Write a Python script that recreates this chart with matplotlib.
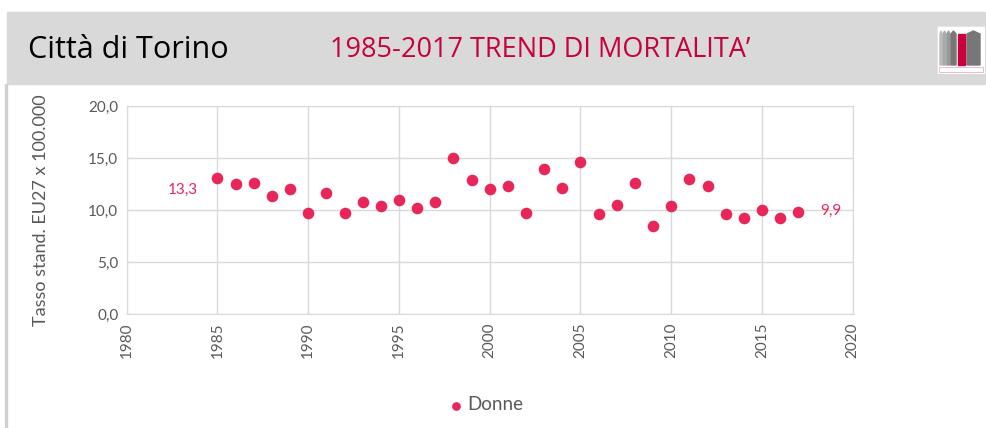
import matplotlib.pyplot as plt
from matplotlib.patches import Rectangle, Polygon

# data
anni = list(range(1985, 2018))
donne = [13.1, 12.5, 12.6, 11.3, 12.0, 9.7, 11.6, 9.7, 10.8, 10.4, 11.0,
         10.2, 10.8, 15.0, 12.9, 12.0, 12.3, 9.7, 13.9, 12.1, 14.6, 9.6,
         10.5, 12.6, 8.5, 10.4, 13.0, 12.3, 9.6, 9.2, 10.0, 9.2, 9.8]
etichetta_inizio = "13,3"
etichetta_fine = "9,9"
x_ticks = [1980, 1985, 1990, 1995, 2000, 2005, 2010, 2015, 2020]
y_ticks = [0, 5, 10, 15, 20]

RED = "#E8265A"
TITLE_RED = "#C8003C"
GRID = "#D9D9D9"
TXT = "#595959"

plt.rcParams['font.family'] = ['Lato', 'DejaVu Sans']

fig = plt.figure(figsize=(9.87, 4.28), dpi=100)
W, H = 987, 428

# header band
fig.patches.append(Rectangle((7 / W, 1 - 84 / H), (985 - 7) / W, 72 / H,
                             transform=fig.transFigure, color="#D9D9D9", zorder=-2))
# left border line of slide
fig.patches.append(Rectangle((5 / W, 0), 2.5 / W, 1 - 84 / H,
                             transform=fig.transFigure, color="#D0D0D0", zorder=-2))

fig.text(28 / W, 1 - 50 / H, "Città di Torino", fontsize=22, color="black",
         va="center", ha="left", family=['Open Sans', 'DejaVu Sans'])
fig.text(330 / W, 1 - 50 / H, "1985-2017 TREND DI MORTALITA\u2019", fontsize=19.5,
         color=TITLE_RED, va="center", ha="left", family=['Open Sans', 'DejaVu Sans'])

# logo
lg = fig.add_axes([937 / W, 1 - 74 / H, 48 / W, 48 / H], zorder=5)
lg.set_xlim(0, 48)
lg.set_ylim(0, 48)
lg.axis("off")
lg.add_patch(Rectangle((0, 0), 48, 48, facecolor="white", edgecolor="#E0E0E0", lw=0.5))
for x0, w, c in [(3, 2, "#BBBBBB"), (6, 3, "#AAAAAA"), (10, 3, "#999999"),
                 (14, 5, "#777777"), (30, 13, "#777777")]:
    lg.add_patch(Polygon([(x0, 9), (x0 + w, 9), (x0 + w, 40), (x0 + w / 2, 43), (x0, 40)],
                         closed=True, color=c))
lg.add_patch(Rectangle((21, 9), 7, 31, color=TITLE_RED))
lg.add_patch(Rectangle((2, 2), 44, 5, facecolor="white", edgecolor="#E8A0B0", lw=0.5))

# main chart
ax = fig.add_axes([126.7 / W, 1 - 314 / H, (852.7 - 126.7) / W, (314 - 106) / H])
ax.scatter(anni, donne, s=70, color=RED, zorder=3, label="Donne", linewidths=0)
ax.set_xlim(1980, 2020)
ax.set_ylim(0, 20)
ax.set_xticks(x_ticks)
ax.set_yticks(y_ticks)
ax.set_yticklabels([f"{v:.1f}".replace(".", ",") for v in y_ticks])
ax.set_xticklabels([str(v) for v in x_ticks], rotation=90)
ax.tick_params(colors=TXT, labelsize=11, length=0, pad=6)
ax.grid(True, color=GRID, lw=1)
ax.set_axisbelow(True)
for sp in ax.spines.values():
    sp.set_color(GRID)
ax.set_ylabel("Tasso stand. EU27 x 100.000", fontsize=13, color=TXT, labelpad=28)

ax.text(1983.9, 11.9, etichetta_inizio, color=RED, fontsize=11, ha="right", va="center")
ax.text(2018.2, 9.9, etichetta_fine, color=RED, fontsize=11, ha="left", va="center")

fig.legend(loc="center", bbox_to_anchor=(484 / W, 1 - 405 / H), frameon=False,
           fontsize=13.5, labelcolor=TXT, handletextpad=0.0, handlelength=1.2,
           markerscale=0.75)

fig.savefig("out.png", dpi=100)
